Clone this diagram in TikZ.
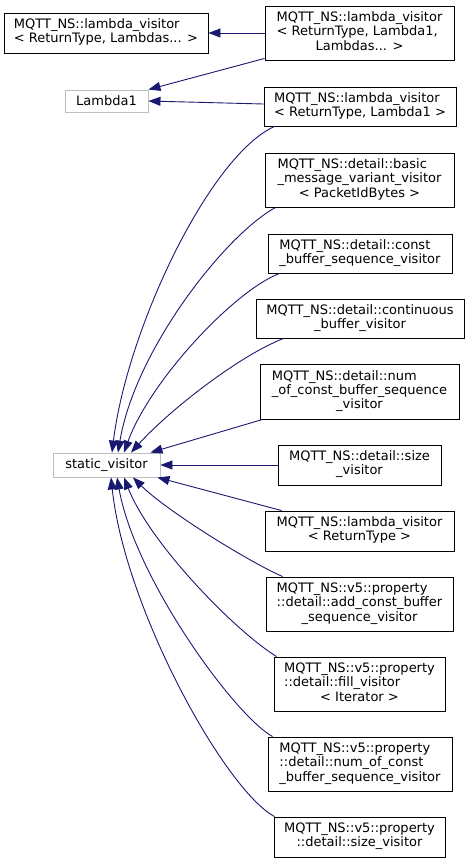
\documentclass[tikz,border=0pt]{standalone}
\usepackage{fontspec}
\setmainfont{DejaVu Sans}
\usetikzlibrary{arrows.meta}
\definecolor{edgeblue}{HTML}{191970}
\definecolor{greyborder}{HTML}{BFBFBF}
\newcommand{\dlab}[2]{\begin{tabular}{@{}l@{}}#1\\\multicolumn{1}{@{}c@{}}{#2}\end{tabular}}
\tikzset{
  classbox/.style={draw=black, line width=0.9pt, fill=white, inner sep=0pt, align=center,
    font=\fontsize{13}{14.2}\selectfont},
  greybox/.style={classbox, draw=greyborder},
  inherit/.style={draw=edgeblue, line width=0.9pt, -{Triangle[length=12pt,width=9pt]}, fill=none},
}
\begin{document}
\begin{tikzpicture}[x=1pt,y=-1pt]
\useasboundingbox (0,0) rectangle (469,863);
\node[classbox, minimum width=204pt, minimum height=40pt] (A) at (106,33) {\dlab{MQTT\_NS::lambda\_visitor}{< ReturnType, Lambdas... >}};
\node[classbox, minimum width=189pt, minimum height=54pt] (B) at (359.5,33) {\dlab{MQTT\_NS::lambda\_visitor\\< ReturnType, Lambda1,}{Lambdas... >}};
\node[greybox, minimum width=83pt, minimum height=22pt] (L1) at (106.5,101) {Lambda1};
\node[classbox, minimum width=192pt, minimum height=39pt] (C) at (360,106.5) {\dlab{MQTT\_NS::lambda\_visitor}{< ReturnType, Lambda1 >}};
\node[classbox, minimum width=189pt, minimum height=54pt] (D) at (359.5,180) {\dlab{MQTT\_NS::detail::basic\\\_message\_variant\_visitor}{< PacketIdBytes >}};
\node[classbox, minimum width=184pt, minimum height=39pt] (E) at (360,253.5) {\dlab{MQTT\_NS::detail::const}{\_buffer\_sequence\_visitor}};
\node[classbox, minimum width=208pt, minimum height=39pt] (F) at (360,318.5) {\dlab{MQTT\_NS::detail::continuous}{\_buffer\_visitor}};
\node[classbox, minimum width=199pt, minimum height=55pt] (G) at (359.5,391.5) {\dlab{MQTT\_NS::detail::num\\\_of\_const\_buffer\_sequence}{\_visitor}};
\node[greybox, minimum width=107pt, minimum height=24pt] (SV) at (106.5,465) {static\_visitor};
\node[classbox, minimum width=163pt, minimum height=40pt] (H) at (359.5,465) {\dlab{MQTT\_NS::detail::size}{\_visitor}};
\node[classbox, minimum width=189pt, minimum height=40pt] (I) at (359.5,531) {\dlab{MQTT\_NS::lambda\_visitor}{< ReturnType >}};
\node[classbox, minimum width=187pt, minimum height=54pt] (J) at (359.5,604) {\dlab{MQTT\_NS::v5::property\\::detail::add\_const\_buffer}{\_sequence\_visitor}};
\node[classbox, minimum width=171pt, minimum height=54pt] (K) at (359.5,684) {\dlab{MQTT\_NS::v5::property\\::detail::fill\_visitor}{< Iterator >}};
\node[classbox, minimum width=184pt, minimum height=54pt] (Lb) at (360,764) {\dlab{MQTT\_NS::v5::property\\::detail::num\_of\_const}{\_buffer\_sequence\_visitor}};
\node[classbox, minimum width=171pt, minimum height=40pt] (M) at (359.5,837) {\dlab{MQTT\_NS::v5::property}{::detail::size\_visitor}};

\draw[inherit] (B.west) -- (A.east);
\draw[inherit] ([yshift=2pt]B.south west) -- (L1.north east);
\draw[inherit] ([yshift=2.5pt]C.west) -- (L1.east);
\draw[inherit] ([xshift=11pt]C.south west) .. controls +(-65,29) and +(15,-123) .. ([xshift=5.5pt]SV.north);
\draw[inherit] ([xshift=11pt]D.south west) .. controls +(-51,28) and +(17,-102) .. ([xshift=11.5pt]SV.north);
\draw[inherit] ([xshift=12pt]E.south west) .. controls +(-45,17) and +(26,-72) .. ([xshift=17.5pt]SV.north);
\draw[inherit] ([xshift=28pt]F.south west) .. controls +(-44,17) and +(39,-43) .. ([xshift=24.5pt]SV.north);
\draw[inherit] ([xshift=3pt]G.south west) -- ([xshift=-10pt]SV.north east);
\draw[inherit] (H.west) -- (SV.east);
\draw[inherit] ([xshift=17pt]I.north west) -- ([xshift=-3pt]SV.south east);
\draw[inherit] ([xshift=17pt]J.north west) .. controls +(-38,-17) and +(32,32) .. ([xshift=26.5pt]SV.south);
\draw[inherit] ([xshift=3pt]K.north west) .. controls +(-42,-26) and +(26,66) .. ([xshift=17.5pt]SV.south);
\draw[inherit] ([xshift=5pt]Lb.north west) .. controls +(-38,-21) and +(18,101) .. ([xshift=10.5pt]SV.south);
\draw[inherit] ([xshift=1pt]M.north west) .. controls +(-50,-27) and +(14,131) .. ([xshift=4.5pt]SV.south);
\end{tikzpicture}
\end{document}
